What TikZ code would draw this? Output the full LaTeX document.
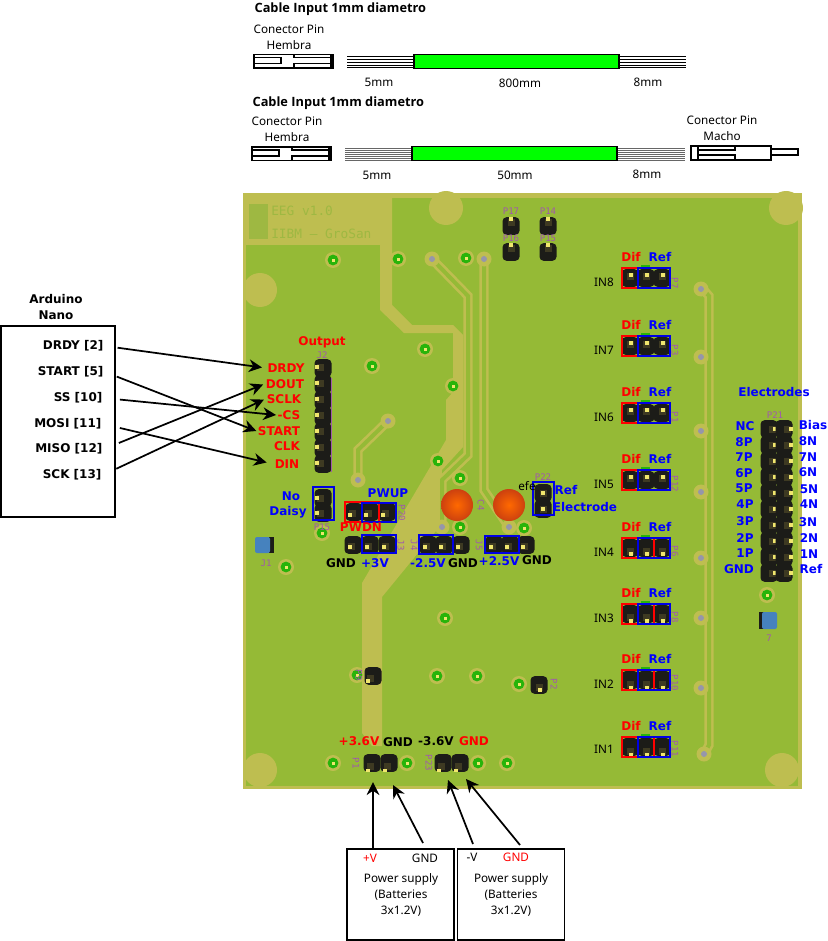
\documentclass[tikz,border=0pt]{standalone}
\usepackage{fontspec}
\setmainfont{Noto Sans}
\newfontfamily\sigfont{DejaVu Sans}
\newfontfamily\silkfont{DejaVu Sans Mono}
\newfontfamily\titlefont{Open Sans}
\usetikzlibrary{arrows.meta}

\definecolor{boardgreen}{RGB}{149,186,54}
\definecolor{pourpale}{RGB}{190,190,80}
\definecolor{padgreen}{RGB}{40,180,10}
\definecolor{pinblack}{RGB}{28,28,24}
\definecolor{pinshade}{RGB}{62,58,34}
\definecolor{pinyellow}{RGB}{240,230,110}
\definecolor{silkpurple}{RGB}{160,90,170}
\definecolor{viagrey}{RGB}{150,150,170}
\definecolor{logogreen}{RGB}{158,184,66}
\definecolor{jumperblue}{RGB}{70,130,190}
\definecolor{capinner}{RGB}{255,105,0}
\definecolor{capouter}{RGB}{205,65,15}

\tikzset{
  wire/.style={->,line width=1.3pt},
  sig/.style={font=\sigfont\bfseries\fontsize{9}{11}\selectfont,inner sep=1pt},
  sigred/.style={sig,text=red},
  sigblue/.style={sig,text=blue},
  note/.style={font=\fontsize{8.8}{12}\selectfont,inner sep=1pt,align=center},
  title/.style={font=\titlefont\bfseries\fontsize{9.6}{10}\selectfont,inner sep=1pt,anchor=west},
  silk/.style={font=\silkfont\fontsize{6.8}{8}\selectfont,text=silkpurple,inner sep=0pt},
  box/.style={draw,line width=1.1pt,fill=white,inner sep=0pt},
  track/.style={draw=pourpale,line width=2pt,double=boardgreen,double distance=3pt},
  bluerect/.style={draw=blue!90!black,line width=1pt},
  redrect/.style={draw=red,line width=1pt},
  part/.style={draw=black,line width=0.8pt}
}

\newcommand{\pinblob}[4]{
  \fill[pinblack,rounded corners=3pt] (#1-8.5,#2-8.8) rectangle (#1+8.5,#2+8.8);
  \fill[pinshade] (#1+#3/2-3.5,#2+#4/2-3.5) rectangle (#1+#3/2+3.5,#2+#4/2+3.5);
  \fill[pinyellow] (#1+#3-1.8,#2+#4-1.8) rectangle (#1+#3+1.8,#2+#4+1.8);
}
\newcommand{\hembra}[2]{
  \begin{scope}[shift={(#1,#2)}]
    \draw[part,fill=white] (0,0) rectangle (79,13.5);
    \draw[part] (0,3) -- (27,3) -- (27,9) -- (0,9);
    \draw[part] (40,0) -- (40,3) -- (77,3);
    \draw[part] (40,13.5) -- (40,9) -- (77,9);
    \draw[part] (77,0) -- (77,13.5);
  \end{scope}
}

\begin{document}
\begin{tikzpicture}[x=0.75pt,y=-0.75pt,>={Stealth[length=9.75pt,width=9.5pt]}]
  \useasboundingbox (0,0) rectangle (827,941);

  % cables
  \node[title] (cableone) at (253,9) {Cable Input 1mm diametro};
  \node[note] (pinone) at (289,37) {Conector Pin\\Hembra};
  \hembra{254}{54.5}
  \foreach \k in {56,59,62,65,67.5} {
    \draw[line width=0.7pt] (347,\k) -- (414,\k);
    \draw[line width=0.7pt] (619,\k) -- (686,\k);
  }
  \draw[part,fill=green] (414,54.3) rectangle (619,68.3);
  \node[note] (cutoa) at (379,82) {5mm};
  \node[note] (cutob) at (520,83) {800mm};
  \node[note] (cutoc) at (648,82) {8mm};

  \node[title] (cabletwo) at (251,103) {Cable Input 1mm diametro};
  \node[note] (pintwo) at (287,129) {Conector Pin\\Hembra};
  \hembra{252}{147}
  \foreach \k in {148,150,152,154,156,158,160} {
    \draw[gray!80!black,line width=0.7pt] (345,\k) -- (412,\k);
    \draw[gray!80!black,line width=0.7pt] (617,\k) -- (685,\k);
  }
  \draw[part,fill=green] (412,146.7) rectangle (617,160.3);
  \node[note] (cutta) at (377,175) {5mm};
  \node[note] (cuttb) at (515,175) {50mm};
  \node[note] (cuttc) at (647,174) {8mm};
  \node[note] (pinmale) at (722,128) {Conector Pin\\Macho};
  \draw[part,fill=white] (771,149) rectangle (798,155);
  \draw[part,fill=white] (691,146) rectangle (771,160);
  \draw[part] (698,146) -- (698,160);
  \draw[part] (698,150) -- (735,150) -- (735,146);
  \draw[part] (698,155) -- (735,155) -- (735,160);

  % board
  \fill[pourpale] (243,193) rectangle (802,789);
  \fill[boardgreen] (246,198) rectangle (798,786);
  \fill[pourpale] (243,193) rectangle (380,245);
  \fill[pourpale] (380,198) -- (392,198) -- (392,305) -- (412,325) -- (453,325) -- (463,335)
    -- (463,447) -- (442,470) -- (441,525) -- (382,597) -- (382,746) -- (372,746) -- (362,733)
    -- (362,583) -- (446,440) -- (446,400) -- (453,392) -- (453,333) -- (404,333) -- (380,310) -- cycle;
  \foreach \x/\y in {446/208,260/290,786/208,260/770,782/770}
    \fill[pourpale] (\x,\y) circle (17);
  \fill[logogreen] (249,204) rectangle (268,239);
  \node[anchor=west,font=\silkfont\fontsize{9.6}{12}\selectfont,text=logogreen,inner sep=0pt] (boardname) at (271,211) {EEG v1.0};
  \node[anchor=west,font=\silkfont\fontsize{9.6}{12}\selectfont,text=logogreen,inner sep=0pt] (boardowner) at (271,234) {IIBM — GroSan};

  % tracks
  \draw[track] (432,259) -- (468,296) -- (468,455) -- (442,480) -- (442,527);
  \draw[track] (484,259) -- (484,490) -- (509,527);
  \draw[track] (388,421) -- (358,450) -- (358,480);
  \draw[track] (702,288) -- (709,296) -- (709,745) -- (704,754);
  \foreach \x/\y in {432/259,484/259,388/421,358/480,442/527,509/527,701/289,701/357,701/431,701/492,701/558,701/618,701/688,704/754} {
    \fill[pourpale] (\x,\y) circle (7.5);
    \fill[viagrey] (\x,\y) circle (3);
  }
  \foreach \x/\y in {333/260,398/259,466/258,425/349,372/366,453/386,438/461,460/478,460/527,524/528,322/533,286/567,445/618,357/675,437/676,477/676,519/684,333/763,407/763,478/763,507/763,767/595} {
    \fill[pourpale] (\x,\y) circle (8);
    \fill[padgreen] (\x,\y) circle (5.4);
    \fill[pinyellow] (\x-1.5,\y-1.5) rectangle (\x+1.5,\y+1.5);
  }

  % capacitors
  \foreach \x in {457,509}
    \shade[inner color=capinner,outer color=capouter] (\x,505) circle (16);

  % jumpers
  \fill[pinblack] (269,537) rectangle (274,553);
  \fill[jumperblue,rounded corners=1.5pt] (255,537) rectangle (270,553);
  \fill[pinblack] (775,612) rectangle (759,629);
  \fill[jumperblue,rounded corners=1.5pt] (762,612) rectangle (777,629);

  % headers
  \foreach \y in {368,384,400,416,432,448,464} {
    \pinblob{323}{\y}{-6}{-1}
  }
  \draw[silkpurple,line width=0.6pt] (331.5,378) -- (331.5,472);
  \foreach \x/\y in {511/226,511/252,548/226,548/252} {
    \pinblob{\x}{\y}{0}{-7}
  }
  \pinblob{373}{676}{-5}{5}
  \pinblob{539}{685}{1}{5}
  \foreach \y in {498,513} {
    \pinblob{323}{\y}{-6}{0}
  }
  \foreach \x in {354,370,387} {
    \pinblob{\x}{512}{-4}{3}
  }
  \foreach \x in {353,370,387,428,444,461,494,510,526} {
    \pinblob{\x}{545}{-3}{2}
  }
  \foreach \y in {493,509} {
    \pinblob{543}{\y}{0}{0}
  }
  \foreach \x in {372,389,443,460} {
    \pinblob{\x}{763}{-4}{7.5}
  }
  \foreach \y in {429,445,...,573} {
    \pinblob{769}{\y}{6}{0}
    \pinblob{784}{\y}{7}{0}
  }

  % header frames
  \draw[bluerect] (313,487) rectangle (334,520);
  \draw[redrect] (345,502) rectangle (379,522);
  \draw[bluerect] (362,503) rectangle (396,522);
  \draw[bluerect] (362,535) rectangle (396,553);
  \draw[bluerect] (419,535) rectangle (453,554);
  \draw[bluerect] (485,536) rectangle (519,553);
  \draw[bluerect] (533,482) rectangle (554,515);

  % input groups
  \foreach \n/\t/\w/\yy/\dy in {8/268/16/-3/0,7/336/16/-3/0,6/403/16/-3/0,5/470/16/-3/0,4/538/32/6/0,3/604/32/7/0,2/670/32/8/0,1/737/32/8/-2} {
    \fill[padgreen] (641,\t-3) rectangle (650,\t+2);
    \foreach \x in {630,646,662} {
      \pinblob{\x}{\t+10}{1}{\yy}
    }
    \draw[redrect] (622,\t) rectangle (622+\w,\t+20);
    \draw[bluerect] (638,\t) rectangle (670,\t+20);
    \node[note] (in\n) at (604,\t+14+\dy) {IN\n};
    \node[sigred] (dif\n) at (631,\t-11) {Dif};
    \node[sigblue] (ref\n) at (660,\t-11) {Ref};
  }

  % output labels
  \node[sigred] (output) at (322,342) {Output};
  \node[sigred] (bdrdy) at (286,368) {DRDY};
  \node[sigred] (bdout) at (285,384) {DOUT};
  \node[sigred] (bsclk) at (284,399) {SCLK};
  \node[sigred] (bcs) at (289,415) {-CS};
  \node[sigred] (bstart) at (279,431) {START};
  \node[sigred] (bclk) at (287,446) {CLK};
  \node[sigred] (bdin) at (287,464) {DIN};

  % board labels
  \node[sigblue] (nodaisy) at (291,496) {No};
  \node[sigblue] (daisy) at (288,512) {Daisy};
  \node[sigblue] (pwup) at (388,493) {PWUP};
  \node[sigred] (pwdn) at (361,527) {PWDN};
  \node[sig] (gnda) at (341,563) {GND};
  \node[sigblue] (vpthree) at (375,563) {+3V};
  \node[sigblue] (vmtwo) at (428,563) {-2.5V};
  \node[sig] (gndb) at (463,563) {GND};
  \node[sigblue] (vptwo) at (499,561) {+2.5V};
  \node[sig] (gndc) at (537,560) {GND};
  \node[sigblue] (refel) at (566,490) {Ref};
  \node[sigblue] (elect) at (585,507) {Electrode};
  \node[note] (efe) at (527,486) {efe};
  \node[sigred] (vpthreesix) at (359,741) {+3.6V};
  \node[sig] (gndd) at (398,742) {GND};
  \node[sig] (vmthreesix) at (436,741) {-3.6V};
  \node[sigred] (gnde) at (474,741) {GND};

  % electrodes
  \node[sigblue] (electrodes) at (774,392) {Electrodes};
  \foreach \t/\x/\y in {NC/745/426,8P/744/442,7P/744/457,6P/744/473,5P/744/488,4P/745/504,3P/745/521,2P/745/538,1P/745/553,GND/739/569,Bias/813/425,8N/808/441,7N/808/457,6N/808/472,5N/809/489,4N/809/504,3N/808/522,2N/809/538,1N/809/554,Ref/811/569}
    \node[sigblue] (el\t) at (\x,\y) {\t};

  % silkscreen
  \foreach \t/\x/\y/\r in {P17/511/211/0,P16/511/238/0,P14/548/211/0,P15/548/238/0,J2/322/355/0,P15/322/527/0,P20/402/513/-90,J3/401/545/-90,J4/414/545/-90,J5/479/545/-90,P22/543/477/0,C4/481/505/-90,J1/266/563/0,P21/775/415/0,7/769/638/0,P2/554/684/-90,P9/359/675/-90,P1/356/763/-90,P23/429/763/-90}
    \node[silk,rotate=\r] at (\x,\y) {\t};
  \foreach \t/\y in {P7/283,P3/350,P1/417,P12/484,P6/551,P8/617,P10/683,P11/749}
    \node[silk,rotate=-90] at (675,\y) {\t};

  % arduino
  \node[note,font=\sigfont\bfseries\fontsize{9}{12}\selectfont] (arduinotitle) at (56,307.5) {Arduino\\Nano};
  \node[box,minimum width=85.5pt,minimum height=143pt] (arduino) at (58,421.5) {};
  \node[sig,anchor=east] (adrdy) at (105,346) {DRDY [2]};
  \node[sig,anchor=east] (astart) at (105,372) {START [5]};
  \node[sig,anchor=east] (ass) at (104,398) {SS [10]};
  \node[sig,anchor=east] (amosi) at (103,424) {MOSI [11]};
  \node[sig,anchor=east] (amiso) at (104,449) {MISO [12]};
  \node[sig,anchor=east] (asck) at (103,475) {SCK [13]};
  \draw[wire,shorten <=9.5pt,shorten >=3pt] (adrdy.east) -- (bdrdy.west);
  \draw[wire,shorten <=9.5pt] (astart.east) -- (bstart.west);
  \draw[wire,shorten <=12pt] (ass.east) -- (bcs.west);
  \draw[wire,shorten <=13pt,shorten >=5pt] (amosi.east) -- (bdin.west);
  \draw[wire,shorten <=12pt,shorten >=1pt] (amiso.east) -- (bdout.west);
  \draw[wire,shorten <=11pt,shorten >=1pt] (asck.east) -- (bsclk.west);

  % power supplies
  \node[box,minimum width=80.25pt,minimum height=68.25pt] (psuone) at (400.5,894.5) {};
  \node[box,minimum width=80.25pt,minimum height=68.25pt] (psutwo) at (511,894.5) {};
  \node[note,text=red] (vplus) at (370,858) {+V};
  \node[note] (gndplus) at (425,858) {GND};
  \node[note] (psuonetext) at (401,895) {Power supply\\(Batteries\\3x1.2V)};
  \node[note] (vminus) at (472,857) {-V};
  \node[note,text=red] (gndminus) at (516,857) {GND};
  \node[note] (psutwotext) at (511,895) {Power supply\\(Batteries\\3x1.2V)};
  \coordinate (pa) at (373,849);
  \coordinate (pb) at (373,782);
  \coordinate (qa) at (423,843);
  \coordinate (qb) at (393,785);
  \coordinate (ra) at (473,844);
  \coordinate (rb) at (448,780);
  \coordinate (sa) at (520,845);
  \coordinate (sb) at (466,779);
  \draw[wire] (pa) -- (pb);
  \draw[wire] (qa) -- (qb);
  \draw[wire] (ra) -- (rb);
  \draw[wire] (sa) -- (sb);
\end{tikzpicture}
\end{document}
